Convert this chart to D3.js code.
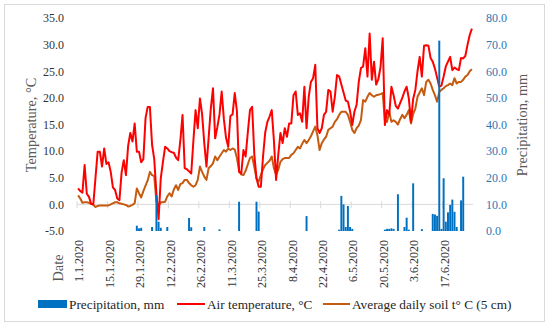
<!DOCTYPE html>
<html><head><meta charset="utf-8">
<script src="https://cdn.jsdelivr.net/npm/d3@7"></script>
<style>body{margin:0;background:#fff} svg{display:block}</style>
</head><body><svg id="c" width="550" height="328"></svg>
<script>
// ---------- data ----------
const tickLabels = ["1.1.2020","15.1.2020","29.1.2020","12.2.2020","26.2.2020","11.3.2020","25.3.2020","8.4.2020","22.4.2020","6.5.2020","20.5.2020","3.6.2020","17.6.2020"];
const tempTicks = [-5,0,5,10,15,20,25,30,35];
const precipTicks = [0,10,20,30,40,50,60,70,80];

const airTemp = [
 3.0, 2.5, 2.2, 7.4, 2.0, 1.4, 0.1, 0.0, 5.0, 9.9,
 9.9, 7.1,10.5, 7.6, 7.9, 6.1, 3.2, 2.7, 1.1, 0.8,
 6.0, 8.3, 5.5,11.0,13.4,11.8,15.2, 9.9, 9.9, 7.9,
 8.5,16.2,18.3,18.3,11.2, 8.5, 2.0,-2.8, 4.9, 8.0,
10.8,10.5,10.0, 9.8, 9.7, 8.8, 8.3,12.0,16.8, 6.8,
 6.6, 6.2, 5.8,12.0,17.7,14.3,19.9,16.9,11.5, 7.1,
12.5,18.0,21.8,12.4,14.5,16.9,21.2,16.0,12.5,10.8,
16.6,16.9,20.9,17.5, 6.1, 5.8,10.2, 9.0,13.5,17.7,
18.3, 9.3, 4.9, 3.3, 3.3, 9.0,13.5,15.5,16.5,17.7,
12.0, 4.6, 9.3,13.4,11.5,14.3,12.7,15.2,15.2,20.5,
21.2,16.8,17.1,15.5,22.1,14.3,20.2,23.0,23.7,26.2,
14.3,13.4,14.3,16.8,17.4,21.5,21.2,17.4,20.2,24.3,
24.0,22.5,21.0,19.5,19.3,17.5,14.9,17.4,18.7,23.0,
25.6,25.9,29.3,24.0,32.1,23.4,26.8,22.5,23.5,25.8,
31.2,14.9,17.7,16.8,22.1,20.5,18.5,18.0,19.0,20.0,
21.2,22.1,19.9,15.5,19.8,21.5,25.0,27.7,24.0,29.8,
29.9,29.8,27.5,26.8,25.5,23.8,22.1,22.3,24.0,25.9,
26.8,27.7,25.2,25.7,25.4,25.2,27.5,27.4,27.9,30.0,
31.8,33.0];

const soilTemp = [
 1.7, 1.1, 0.3, 0.4, 0.4, 0.3, 0.1,-0.1,-0.5,-0.3,
-0.2,-0.2,-0.2,-0.2,-0.2, 0.0, 0.2, 0.4, 0.4, 0.2,
 0.1, 0.0,-0.1,-0.4,-0.3,-0.1, 0.2, 3.0, 2.1, 1.3,
 2.5, 3.5, 4.5, 6.1, 5.5, 5.3, 0.5,-0.3, 0.4, 0.4,
 0.5, 1.5, 2.1, 1.5, 2.8, 3.6, 2.7, 3.8, 4.0, 4.6,
 4.6, 4.0, 3.6, 3.3, 3.6, 4.6, 7.1, 6.1, 5.2, 4.6,
 6.8, 7.2, 7.7, 9.0, 8.3, 9.0, 9.6,10.2, 9.9,10.5,
10.2,10.5,10.3, 8.7, 6.3, 5.6, 5.5, 6.3, 7.5, 8.7,
 9.0, 7.0, 4.8, 4.3, 5.5, 6.6, 7.4, 7.8, 8.2, 9.0,
 6.8, 5.6, 6.5, 8.0, 8.5, 8.7, 8.7, 8.7, 9.3, 9.6,
10.2,10.8,10.5,11.4,12.1,11.5,12.1,12.8,13.7,14.6,
13.0,10.2,11.5,12.2,12.7,14.0,14.3,14.6,15.5,16.0,
16.8,17.4,17.4,17.4,16.8,15.5,14.0,13.4,14.3,14.8,
15.8,19.6,19.3,20.2,20.9,20.5,20.2,20.5,20.6,20.7,
20.9,15.8,15.5,17.4,15.5,15.8,15.5,15.0,16.0,16.8,
16.2,16.8,17.7,15.2,17.0,18.0,20.2,21.0,21.8,20.5,
23.0,23.4,22.7,21.5,20.5,19.3,21.1,21.5,21.8,22.2,
22.4,22.7,22.4,23.7,22.7,23.0,23.0,23.4,24.0,24.3,
25.0,25.4];

const precipitation = [
 0,0,0,0,0,0,0,0,0,0,
 0,0,0,0,0,0,0,0,0,0,
 0,0,0,0,0,0,0,2.0,1.0,1.2,
 0,0,0,0,1.5,0,13.5,3.5,1.2,0,
 0,1.5,0,0,0,0,0,0,0,0,
 0,4.9,1.4,0,0,0,0,0,1.5,0,
 0,0,0,0,0,0.6,0,0,0,0,
 0,0,0,0,11.0,0,0,0,0,0,
 0,0,11.0,7.3,0,0,0,0,0,0,
 0,0,0,0,0,0,0,0,0,0,
 0,0,0,0,0,5.6,0,0,0,0,
 0,0,0,0,0,0,0,0,0,0,
 0.5,13.2,10.0,1.5,9.4,1.5,0.8,0,0,0,
 0,0,0,0,0,0,0,0,0,0,
 0,0.5,0.8,0.8,1.0,0.8,0,13.8,0,0,
 1.5,5.0,0.5,0,17.9,0,0,0,0.7,0,
 0,0,0,6.4,6.2,5.7,71.5,0.8,19.8,3.5,
 7.0,9.8,11.8,7.2,1.5,0,11.5,20.4,0,0,
 0,0];

// categories: every day 1.1.2020 .. 30.6.2020
const fmt = d3.timeFormat("%-d.%-m.%Y");
const categories = d3.timeDay.range(new Date(2020,0,1), new Date(2020,6,1)).map(fmt);

// ---------- drawing ----------
const svg = d3.select("#c");
const FONT = "'Liberation Serif', 'Times New Roman', serif";

svg.append("rect").attr("x",4.5).attr("y",4.5).attr("width",540).attr("height",317)
  .attr("fill","#fff").attr("stroke","#D9D9D9").attr("stroke-width",1);

const x = d3.scaleBand().domain(categories).range([77,473]).paddingInner(0).paddingOuter(0);
const bw = x.bandwidth();
const yT = d3.scaleLinear().domain([-5,35]).range([231,18]);
const yP = d3.scaleLinear().domain([0,80]).range([231,18]);

// left axis
const gL = svg.append("g").attr("transform","translate(77,0)")
  .call(d3.axisLeft(yT).tickValues(tempTicks).tickSize(0).tickPadding(13).tickFormat(d=>d.toFixed(1)));
gL.select(".domain").remove();
gL.selectAll("text").attr("font-family",FONT).attr("font-size",12).attr("fill","#333");

// right axis
const gR = svg.append("g").attr("transform","translate(473,0)")
  .call(d3.axisRight(yP).tickValues(precipTicks).tickSize(0).tickPadding(13).tickFormat(d=>d.toFixed(1)));
gR.select(".domain").remove();
gR.selectAll("text").attr("font-family",FONT).attr("font-size",12).attr("fill","#2E75B6");

// category axis at temperature 0
const y0 = yT(0);
svg.append("line").attr("x1",77).attr("x2",473).attr("y1",y0).attr("y2",y0)
  .attr("stroke","#D9D9D9").attr("stroke-width",1);
svg.selectAll("line.tk").data(tickLabels).enter().append("line").attr("class","tk")
  .attr("x1",d=>x(d)).attr("x2",d=>x(d)).attr("y1",y0-3).attr("y2",y0+4)
  .attr("stroke","#D9D9D9").attr("stroke-width",1);
svg.selectAll("text.dl").data(tickLabels).enter().append("text").attr("class","dl")
  .attr("transform",d=>`translate(${x(d)+bw/2+1},240) rotate(-90)`)
  .attr("dy","0.35em").attr("text-anchor","end")
  .attr("font-family",FONT).attr("font-size",12).attr("fill","#333").text(d=>d);

// lines
const line = arr => d3.line().x((d,i)=>x(categories[i])+bw/2).y(d=>yT(d))(arr);
svg.append("path").attr("d",line(soilTemp)).attr("fill","none").attr("stroke","#C55A11")
  .attr("stroke-width",2).attr("stroke-linejoin","round");
svg.append("path").attr("d",line(airTemp)).attr("fill","none").attr("stroke","#FF0000")
  .attr("stroke-width",2).attr("stroke-linejoin","round");

// bars (secondary axis)
svg.selectAll("rect.bar").data(precipitation.map((v,i)=>({c:categories[i],v})).filter(d=>d.v>0))
  .enter().append("rect").attr("class","bar")
  .attr("x",d=>x(d.c)+bw*0.05).attr("width",bw*0.9)
  .attr("y",d=>yP(d.v)).attr("height",d=>yP(0)-yP(d.v)).attr("fill","#0070C0");

// axis titles
const title = (txt,cx,cy) => svg.append("text")
  .attr("transform",`translate(${cx},${cy}) rotate(-90)`).attr("dy","0.35em")
  .attr("text-anchor","middle").attr("font-family",FONT).attr("font-size",14.3)
  .attr("fill","#595959").text(txt);
title("Temperature, °C",31,125);
title("Date",58,268);
title("Precipitation, mm",522,125);

// legend
const LY = 304;
svg.append("rect").attr("x",38).attr("y",LY-4).attr("width",29).attr("height",8).attr("fill","#0070C0");
svg.append("line").attr("x1",177).attr("x2",205).attr("y1",LY).attr("y2",LY).attr("stroke","#FF0000").attr("stroke-width",2);
svg.append("line").attr("x1",323).attr("x2",350).attr("y1",LY).attr("y2",LY).attr("stroke","#C55A11").attr("stroke-width",2);
const legTxt = [["Precipitation, mm",69],["Air temperature, °C",207],["Average daily soil t° C (5 cm)",352]];
legTxt.forEach(([t,lx]) => svg.append("text").attr("x",lx).attr("y",LY).attr("dy","0.35em")
  .attr("font-family",FONT).attr("font-size",13.3).attr("fill","#262626").text(t));
</script></body></html>
